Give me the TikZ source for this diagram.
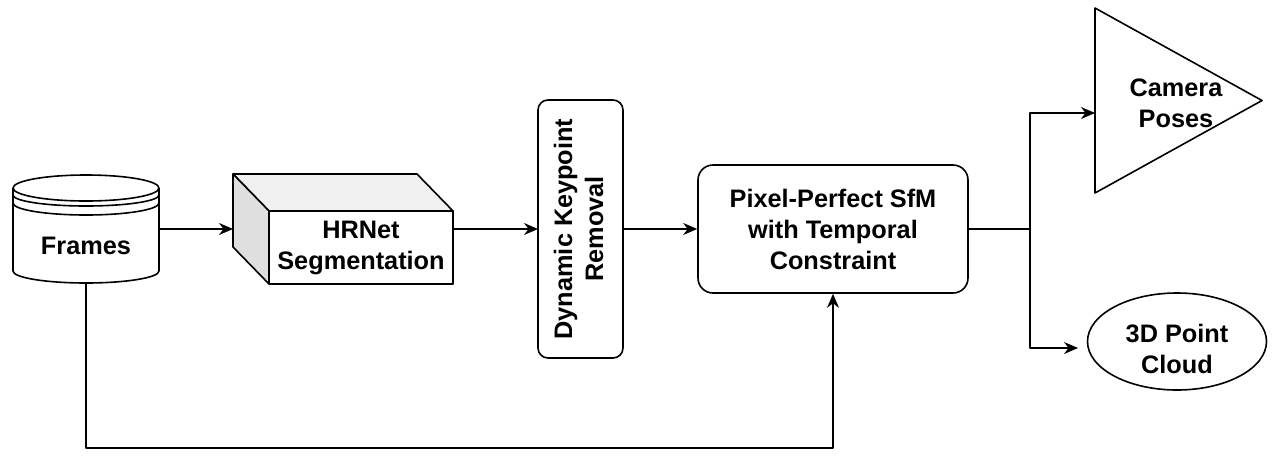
\documentclass[tikz,border=0pt]{standalone}
\usepackage{fontspec}
\setmainfont{Liberation Sans}
\usetikzlibrary{arrows.meta,shapes.geometric}
\begin{document}
\begin{tikzpicture}[x=1pt,y=-1pt,
  line width=1.6pt, line join=round,
  arr/.style={-{Stealth[length=14pt,width=12pt,inset=4.5pt]}},
  lbl/.style={font=\fontsize{25.3}{31}\selectfont\bfseries, align=center, inner sep=0pt},
  hold/.style={inner sep=0pt, outer sep=0pt}]
\useasboundingbox (0,0) rectangle (1276,466);

% Frames (data store cylinder)
\node[hold, minimum width=146pt, minimum height=108pt] (frames) at (86,229) {};
\draw (13,188) -- (13,271) arc[start angle=180,end angle=360,x radius=73pt,y radius=12pt] -- (159,188);
\draw (86,188) ellipse [x radius=73pt, y radius=13pt];
\draw (13,195) arc[start angle=180,end angle=360,x radius=73pt,y radius=11pt];
\draw (13,203) arc[start angle=180,end angle=360,x radius=73pt,y radius=12pt];
\node[lbl] (framesT) at (86,246) {Frames};

% HRNet cube
\node[hold, minimum width=220pt, minimum height=110pt] (cube) at (343,229) {};
\draw[fill=gray!12] (233,174) -- (417,174) -- (453,211) -- (269,211) -- cycle;
\draw[fill=gray!25] (233,174) -- (269,211) -- (269,284) -- (233,247) -- cycle;
\node[draw, fill=white, lbl, minimum width=184pt, minimum height=73pt] (hrnet) at (361,247.5) {HRNet\\Segmentation};

% Dynamic keypoint removal
\node[draw, rounded corners=10pt, hold, minimum width=85pt, minimum height=258pt] (dkr) at (580.5,229) {};
\node[lbl] (dkrT) at (581.5,229) {\rotatebox{90}{\begin{tabular}{@{}c@{}}Dynamic Keypoint\\Removal\end{tabular}}};

% SfM
\node[draw, rounded corners=15pt, lbl, minimum width=270pt, minimum height=128pt] (sfm) at (833,229) {Pixel-Perfect SfM\\with Temporal\\Constraint};

% Camera poses triangle
\node[hold, minimum width=167pt, minimum height=185pt] (cam) at (1178.5,100.5) {};
\draw (cam.north west) -- (cam.east) -- (cam.south west) -- cycle;
\node[lbl] (camT) at (1176,103) {Camera\\Poses};

% Point cloud ellipse
\node[draw, ellipse, hold, minimum width=179pt, minimum height=97pt] (pc) at (1177,341.5) {};
\node[lbl] (pcT) at (1177,349) {3D Point\\Cloud};

% connectors
\coordinate (split) at (1030,229);
\coordinate (camIn) at (1095,113);
\coordinate (pcIn) at (1078,348);
\coordinate (low) at (86,448);

\draw[arr] (frames.east) -- (cube.west);
\draw[arr] (cube.east) -- (dkr.west);
\draw[arr] (dkr.east) -- (sfm.west);
\draw (sfm.east) -- (split);
\draw[arr] (split) |- (camIn);
\draw[arr] (split) |- (pcIn);
\draw[arr] (frames.south) -- (low) -| (sfm.south);
\end{tikzpicture}
\end{document}
